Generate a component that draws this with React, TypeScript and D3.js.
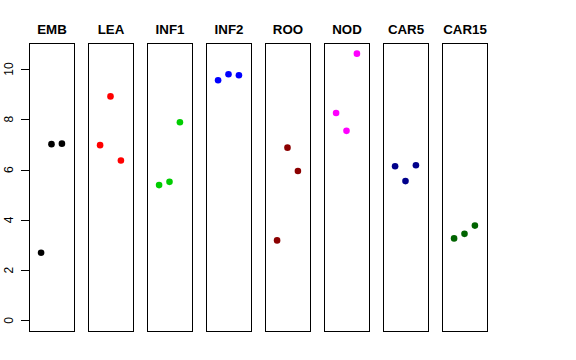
import React from "react";
import * as d3 from "d3";

const categories = ["EMB", "LEA", "INF1", "INF2", "ROO", "NOD", "CAR5", "CAR15"];
const colors = ["#000000", "#FF0000", "#00CD00", "#0000FF", "#8B0000", "#FF00FF", "#00008B", "#006400"];
const values: number[][] = [
  [2.69, 7.01, 7.03],
  [6.97, 8.91, 6.36],
  [5.38, 5.51, 7.88],
  [9.55, 9.79, 9.75],
  [3.18, 6.87, 5.94],
  [8.25, 7.54, 10.61],
  [6.13, 5.54, 6.17],
  [3.26, 3.44, 3.77],
];
const yTicks = [0, 2, 4, 6, 8, 10];

const W = 576;
const H = 360;
const top = 43;
const bottom = 331;
const panelLeft0 = 29;
const panelStep = 59;
const panelW = 45;

export default function App() {
  const ymax = 10.61;
  const ext = ymax * 0.04;
  const y = d3.scaleLinear().domain([-ext, ymax + ext]).range([bottom, top]);
  const xExt = 4 * 0.04;
  return (
    <svg width={W} height={H} style={{ position: "absolute", left: 0, top: 0 }}
      fontFamily="'Liberation Sans', Arial, sans-serif">
      <rect x={0} y={0} width={W} height={H} fill="#fff" />
      {categories.map((c, i) => {
        const left = panelLeft0 + panelStep * i;
        const x = d3.scaleLinear().domain([-xExt, 4 + xExt]).range([left, left + panelW]);
        return (
          <g key={c}>
            <rect x={left + 0.5} y={top + 0.5} width={panelW} height={bottom - top} fill="none" stroke="#000" strokeWidth={1} />
            <text x={left + panelW / 2 + 0.5} y={34} textAnchor="middle" fontWeight="bold" fontSize={13.3}>{c}</text>
            {values[i].map((v, j) => (
              <circle key={j} cx={x(j + 1)} cy={y(v)} r={3.3} fill={colors[i]} />
            ))}
          </g>
        );
      })}
      <g>
        <line x1={panelLeft0 + 0.5} x2={panelLeft0 + 0.5} y1={y(0)} y2={y(10)} stroke="#000" />
        {yTicks.map((t) => (
          <g key={t}>
            <line x1={panelLeft0 - 8} x2={panelLeft0 + 0.5} y1={Math.round(y(t)) + 0.5} y2={Math.round(y(t)) + 0.5} stroke="#000" />
            <text transform={`translate(13,${y(t)}) rotate(-90)`} textAnchor="middle" fontSize={12}>{t}</text>
          </g>
        ))}
      </g>
    </svg>
  );
}
